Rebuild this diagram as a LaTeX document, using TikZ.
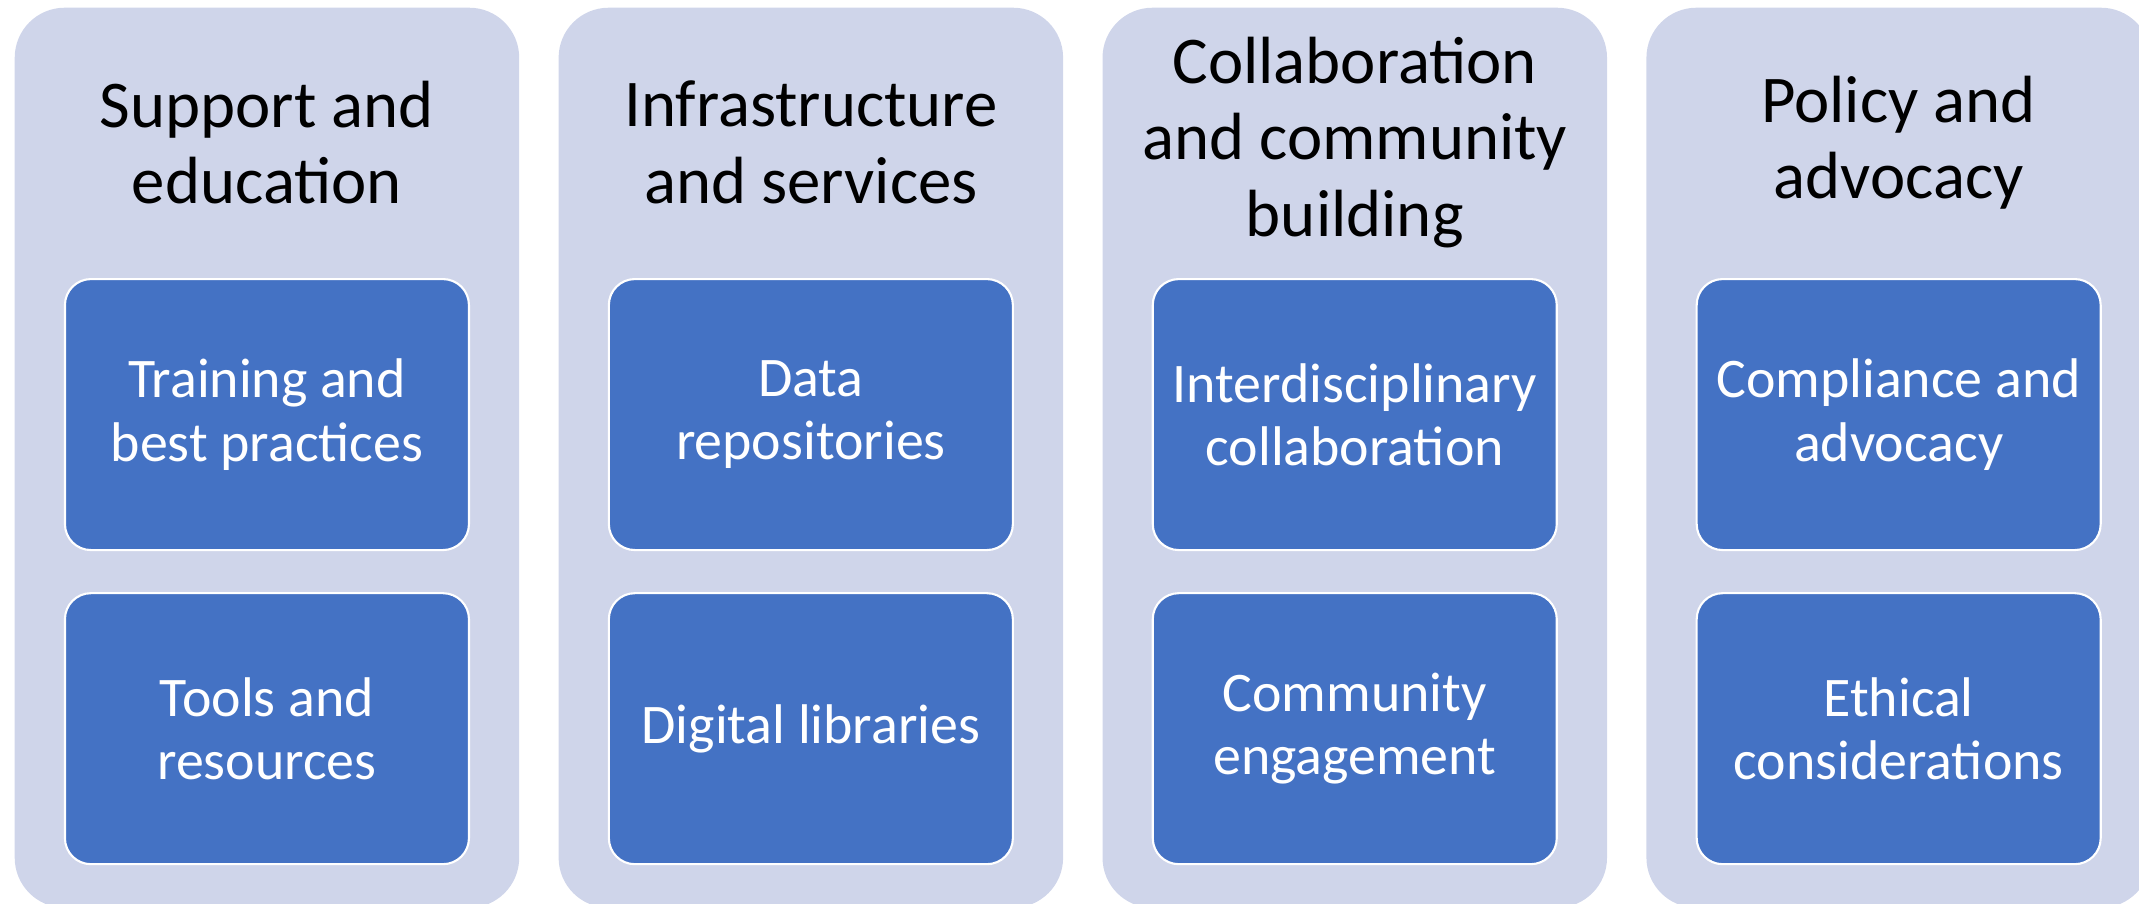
\documentclass[tikz,border=0pt]{standalone}
\usepackage{fontspec}
\setmainfont{Carlito}
\usetikzlibrary{calc,
                positioning}

\definecolor{paleblue}{HTML}{CFD5EA}
\definecolor{officeblue}{HTML}{4472C4}

\begin{document}
\begin{tikzpicture}[
    node distance = 4.1mm and 3.8mm,
        group/.style = {fill=paleblue, rounded corners=5mm, inner sep=0pt,
                    minimum width=50.45mm, minimum height=90mm},
        title/.style = {align=center, text=black,
                    font=\fontsize{19}{21.8}\selectfont},
        item/.style = {draw=white, line width=0.6pt, fill=officeblue,
                    rounded corners=2.6mm, inner sep=0pt,
                    minimum width=40.4mm, minimum height=27.1mm,
                    align=center, text=white,
                    font=\fontsize{15.9}{18}\selectfont}
        ]

    \useasboundingbox (0,0) rectangle (21.39,-9.03);

    % Columns
    \node[group, anchor=north west] (support) at (0.14,-0.07) {};
    \node[group, right=of support] (infra) {};
    \node[group, right=of infra] (collab) {};
    \node[group, right=of collab] (policy) {};

    % Items, top row
    \node[item, below=2.71cm of support.north] (training) {Training and\\best practices};
    \node[item, below=2.71cm of infra.north] (repos) {Data\\repositories};
    \node[item, below=2.71cm of collab.north] (interdisc) {Interdisciplinary\\collaboration};
    \node[item, below=2.71cm of policy.north] (compliance) {Compliance and\\advocacy};

    % Items, bottom row
    \node[item, below=of training] (tools) {Tools and\\resources};
    \node[item, below=of repos] (libraries) {Digital libraries};
    \node[item, below=of interdisc] (engage) {Community\\engagement};
    \node[item, below=of compliance] (ethics) {Ethical\\considerations};

    % Titles
    \node[title] (support-t) at ($(support.north)!0.5!(training.north)$) {Support and\\education};
    \node[title] (infra-t) at ($(infra.north)!0.5!(repos.north)$) {Infrastructure\\and services};
    \node[title] (collab-t) at ($(collab.north)!0.5!(interdisc.north)$) {Collaboration\\and community\\building};
    \node[title] (policy-t) at ($(policy.north)!0.5!(compliance.north)$) {Policy and\\advocacy};

\end{tikzpicture}
\end{document}
